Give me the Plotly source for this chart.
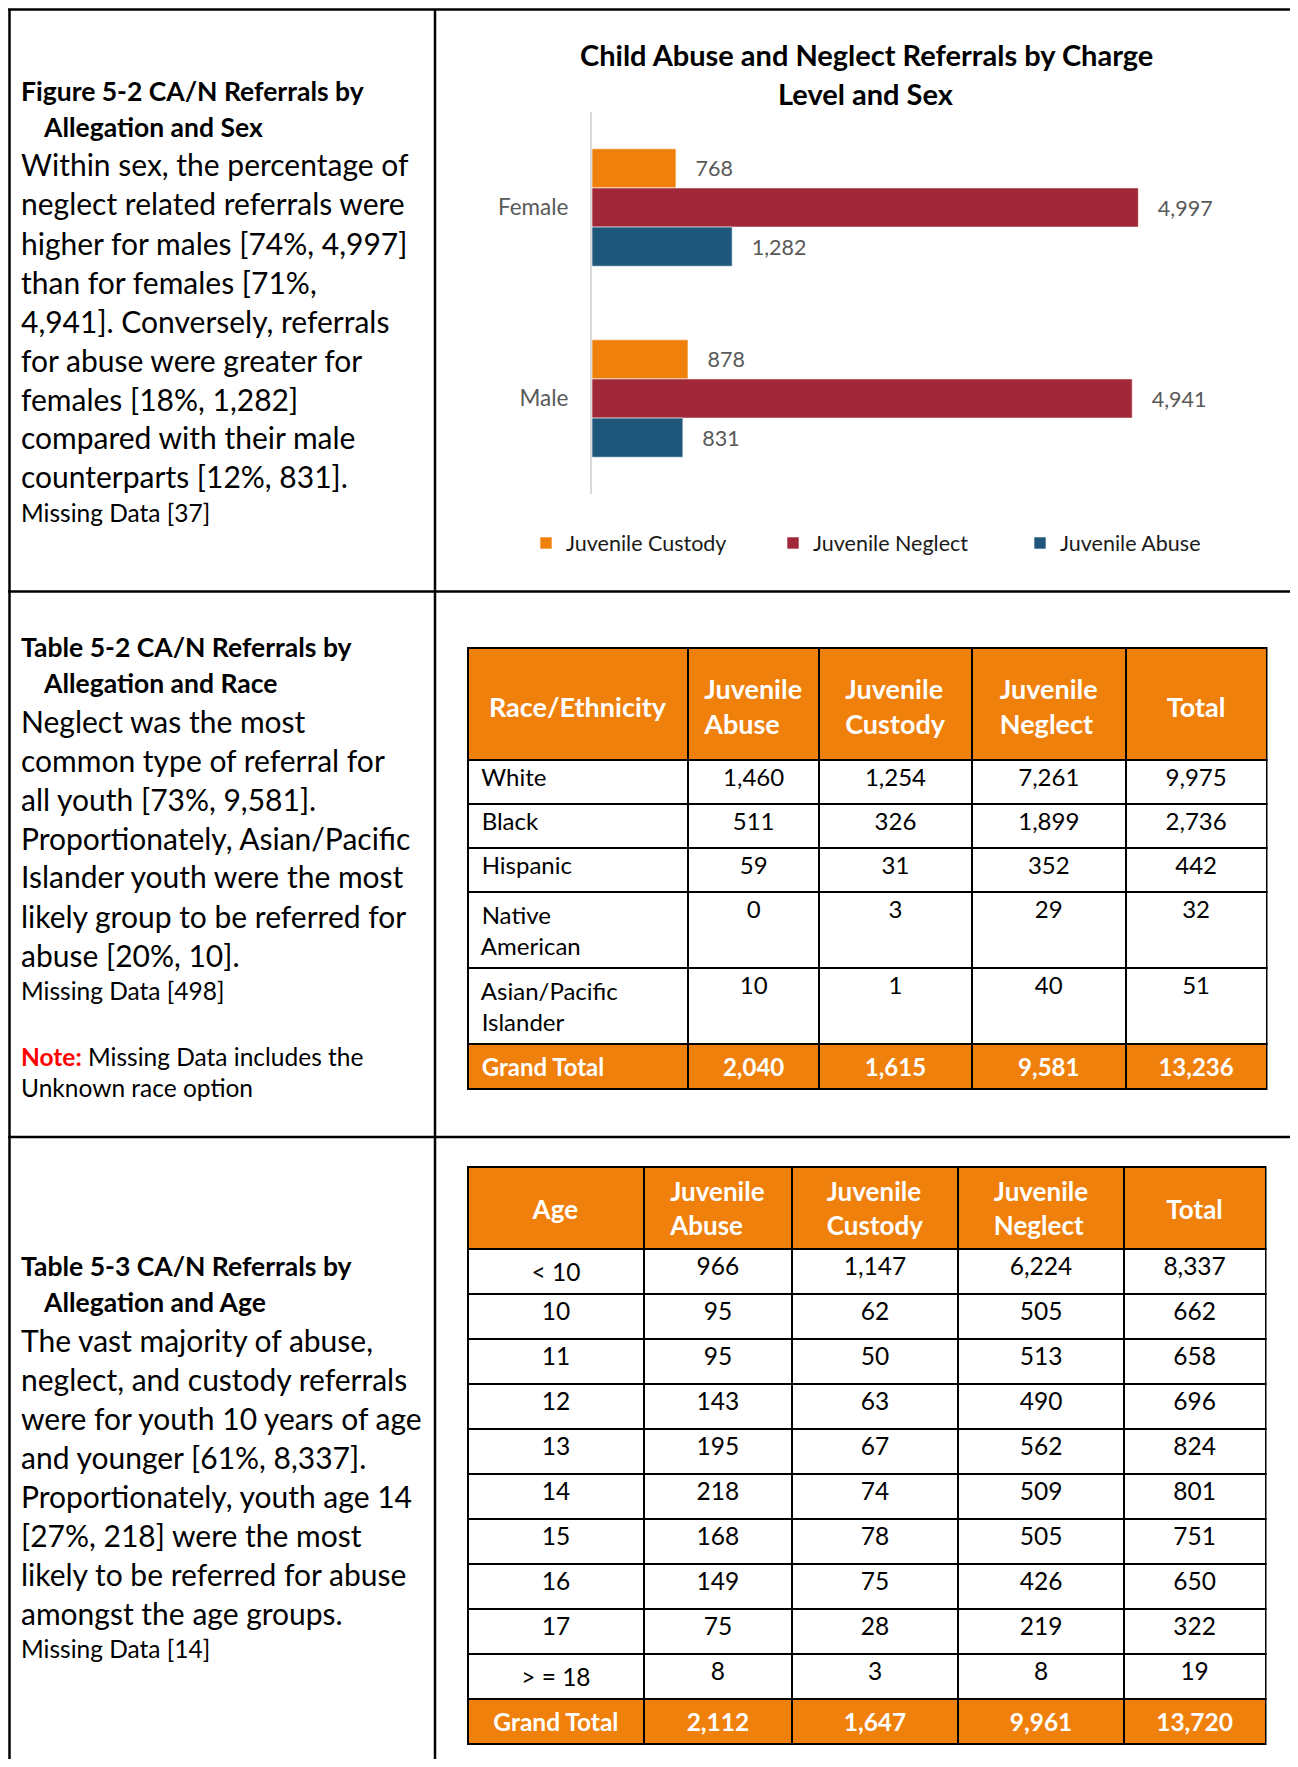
import plotly.graph_objects as go

# Page (window) is 1298 x 1767; the HTML body has an 8px margin, so the figure
# is made 16px smaller and every page coordinate is shifted by 8px.
PW, PH = 1298, 1767
OFF = 8
W, H = PW - 2 * OFF, PH - 2 * OFF
FONT = "Lato"

# ---------------- data ----------------
sexes = ["Female", "Male"]
series_names = ["Juvenile Custody", "Juvenile Neglect", "Juvenile Abuse"]
custody_by_sex = [768, 878]
neglect_by_sex = [4997, 4941]
abuse_by_sex = [1282, 831]

race_header = ["Race/Ethnicity", "Juvenile<br>Abuse", "Juvenile<br>Custody", "Juvenile<br>Neglect", "Total"]
race_labels = ["White", "Black", "Hispanic", "Native<br>American", "Asian/Pacific<br>Islander"]
race_abuse = [1460, 511, 59, 0, 10]
race_custody = [1254, 326, 31, 3, 1]
race_neglect = [7261, 1899, 352, 29, 40]
race_total = [9975, 2736, 442, 32, 51]
race_grand = [2040, 1615, 9581, 13236]

age_header = ["Age", "Juvenile<br>Abuse", "Juvenile<br>Custody", "Juvenile<br>Neglect", "Total"]
age_labels = ["< 10", "10", "11", "12", "13", "14", "15", "16", "17", "> = 18"]
age_abuse = [966, 95, 95, 143, 195, 218, 168, 149, 75, 8]
age_custody = [1147, 62, 50, 63, 67, 74, 78, 75, 28, 3]
age_neglect = [6224, 505, 513, 490, 562, 509, 505, 426, 219, 8]
age_total = [8337, 662, 658, 696, 824, 801, 751, 650, 322, 19]
age_grand = [2112, 1647, 9961, 13720]

chart_title = ["Child Abuse and Neglect Referrals by Charge", "Level and Sex"]

sec1_head = ["Figure 5-2 CA/N Referrals by", "Allegation and Sex"]
sec1_body = ["Within sex, the percentage of", "neglect related referrals were",
             "higher for males [74%, 4,997]", "than for females [71%,",
             "4,941]. Conversely, referrals", "for abuse were greater for",
             "females [18%, 1,282]", "compared with their male",
             "counterparts [12%, 831]."]
sec1_missing = "Missing Data [37]"

sec2_head = ["Table 5-2 CA/N Referrals by", "Allegation and Race"]
sec2_body = ["Neglect was the most", "common type of referral for",
             "all youth [73%, 9,581].", "Proportionately, Asian/Pacific",
             "Islander youth were the most", "likely group to be referred for",
             "abuse [20%, 10]."]
sec2_missing = "Missing Data [498]"
sec2_note = ["<span style='color:#FF0000'><b>Note:</b></span> Missing Data includes the",
             "Unknown race option"]

sec3_head = ["Table 5-3 CA/N Referrals by", "Allegation and Age"]
sec3_body = ["The vast majority of abuse,", "neglect, and custody referrals",
             "were for youth 10 years of age", "and younger [61%, 8,337].",
             "Proportionately, youth age 14", "[27%, 218] were the most",
             "likely to be referred for abuse", "amongst the age groups."]
sec3_missing = "Missing Data [14]"

# ---------------- styles ----------------
ORANGE = "#F0800C"
COLORS = ["#F0800C", "#A12838", "#1E5779"]
GRAY = "#595959"


def fx(x):
    return min(max((x - OFF) / W, 0), 1)


def fy(y):
    return min(max(1 - (y - OFF) / H, 0), 1)


fig = go.Figure()

# ---- bar chart ----
for name, vals, col in zip(series_names, [custody_by_sex, neglect_by_sex, abuse_by_sex], COLORS):
    fig.add_trace(go.Bar(
        y=sexes, x=vals, name=name, orientation="h",
        marker=dict(color=col, line=dict(color="rgba(255,255,255,0.6)", width=1)),
        texttemplate="   %{x:,}", textposition="outside", constraintext="none",
        textfont=dict(family=FONT, size=21.5, color=GRAY), cliponaxis=False,
        hoverinfo="skip",
    ))

x0, x1 = 592, 1248
fig.update_layout(
    xaxis=dict(domain=[fx(x0), fx(x1)], range=[0, 6000], visible=False, fixedrange=True),
    yaxis=dict(domain=[fy(494), fy(112)], autorange="reversed", showline=True,
               linecolor="#D9D9D9", linewidth=2, ticks="", showgrid=False,
               ticklabelstandoff=17, tickfont=dict(family=FONT, size=22.5, color=GRAY),
               fixedrange=True),
    barmode="group", bargap=0.385, bargroupgap=0,
    legend=dict(orientation="h", x=fx(526), y=fy(543), xanchor="left", yanchor="middle",
                font=dict(family=FONT, size=21.5, color="#1a1a1a"),
                entrywidth=202, entrywidthmode="pixels", bgcolor="rgba(0,0,0,0)",
                itemclick=False, itemdoubleclick=False),
)

annotations = []
for i, t in enumerate(chart_title):
    annotations.append(dict(text="<b>%s</b>" % t, x=fx(866), y=fy(54 + i * 39.5), xref="paper", yref="paper",
                            xanchor="center", yanchor="middle", showarrow=False,
                            font=dict(family=FONT, size=29, color="#000000")))


def add_block(head, body, missing, y_head, body_size=30, head_size=26.5, small=24.5):
    y = y_head
    for i, t in enumerate(head):
        annotations.append(dict(text="<b>%s</b>" % t, x=fx(19 if i == 0 else 41), y=fy(y),
                                xref="paper", yref="paper", xanchor="left", yanchor="middle",
                                showarrow=False, font=dict(family=FONT, size=head_size, color="#000")))
        y += 36
    y += 1.5
    for t in body:
        annotations.append(dict(text=t, x=fx(19), y=fy(y), xref="paper", yref="paper",
                                xanchor="left", yanchor="middle", showarrow=False,
                                font=dict(family=FONT, size=body_size, color="#000")))
        y += 39
    y -= 3
    annotations.append(dict(text=missing, x=fx(19), y=fy(y), xref="paper", yref="paper",
                            xanchor="left", yanchor="middle", showarrow=False,
                            font=dict(family=FONT, size=small, color="#000")))
    return y


add_block(sec1_head, sec1_body, sec1_missing, 91)
add_block(sec2_head, sec2_body, sec2_missing, 647)
for i, t in enumerate(sec2_note):
    annotations.append(dict(text=t, x=fx(19), y=fy(1056 + i * 31), xref="paper", yref="paper",
                            xanchor="left", yanchor="middle", showarrow=False,
                            font=dict(family=FONT, size=24.5, color="#000")))
add_block(sec3_head, sec3_body, sec3_missing, 1266)

fig.update_layout(annotations=annotations)


# ---- tables ----
def fmt(v):
    return f"{v:,}"


def spacer(px):
    # an invisible first line that pushes the header text down (vertical centring)
    if not px:
        return ""
    return "<span style='font-size:%dpx'>\u00a0</span><br>" % px


def header_values(labels, pads):
    return [spacer(p) + "<b>%s</b>" % h for h, p in zip(labels, pads)]


def table_columns(labels, cols, grand):
    out = [list(labels) + ["<b>Grand Total</b>"]]
    for c, g in zip(cols, grand):
        out.append([fmt(v) for v in c] + ["<b>%s</b>" % fmt(g)])
    return out


def cell_style(n, normal, last):
    return [[normal] * n + [last] for _ in range(5)]


race_vals = table_columns([" " + l.replace("<br>", "<br> ") for l in race_labels],
                          [race_abuse, race_custody, race_neglect, race_total], race_grand)
race_vals[0][-1] = " " + race_vals[0][-1]
nr = len(race_labels)
fig.add_trace(go.Table(
    domain=dict(x=[fx(467.5), fx(1267.5)], y=[fy(1110), fy(648)]),
    columnwidth=[221, 131, 153, 154, 141],
    header=dict(values=header_values(race_header, [26, 8, 8, 8, 26]), fill_color=ORANGE,
                line=dict(color="#000", width=2), align="center", height=112,
                font=dict(family=FONT, size=27, color="white")),
    cells=dict(values=race_vals, fill_color=cell_style(nr, "white", ORANGE),
               line=dict(color="#000", width=2), height=44,
               align=["left", "center", "center", "center", "center"],
               font=dict(family=FONT, size=24,
                         color=cell_style(nr, "#000", "white"))),
))

age_vals = table_columns(age_labels, [age_abuse, age_custody, age_neglect, age_total], age_grand)
na = len(age_labels)
fig.add_trace(go.Table(
    domain=dict(x=[fx(467.5), fx(1266)], y=[0, fy(1167)]),
    columnwidth=[177, 147.5, 167, 165.5, 142],
    header=dict(values=header_values(age_header, [10, 0, 0, 0, 10]), fill_color=ORANGE,
                line=dict(color="#000", width=2), align="center", height=80,
                font=dict(family=FONT, size=26, color="white")),
    cells=dict(values=age_vals, fill_color=cell_style(na, "white", ORANGE),
               line=dict(color="#000", width=2), height=45,
               align="center",
               font=dict(family=FONT, size=24.5,
                         color=cell_style(na, "#000", "white"))),
))

# ---- page frame ----
shapes = []
LW = 2.5
TOP = 9.5
for (xa, ya, xb, yb) in [(6, TOP, PW, TOP), (9.5, TOP, 9.5, PH), (435, TOP, 435, PH),
                         (6, 591.5, PW, 591.5), (6, 1137, PW, 1137)]:
    shapes.append(dict(type="line", xref="paper", yref="paper", x0=fx(xa), y0=fy(ya),
                       x1=fx(xb), y1=fy(yb), line=dict(color="#000", width=LW)))
fig.update_layout(shapes=shapes)

fig.update_layout(width=W, height=H, margin=dict(l=0, r=0, t=0, b=0),
                  paper_bgcolor="white", plot_bgcolor="white",
                  font=dict(family=FONT), showlegend=True)

fig.write_html("out.html")
